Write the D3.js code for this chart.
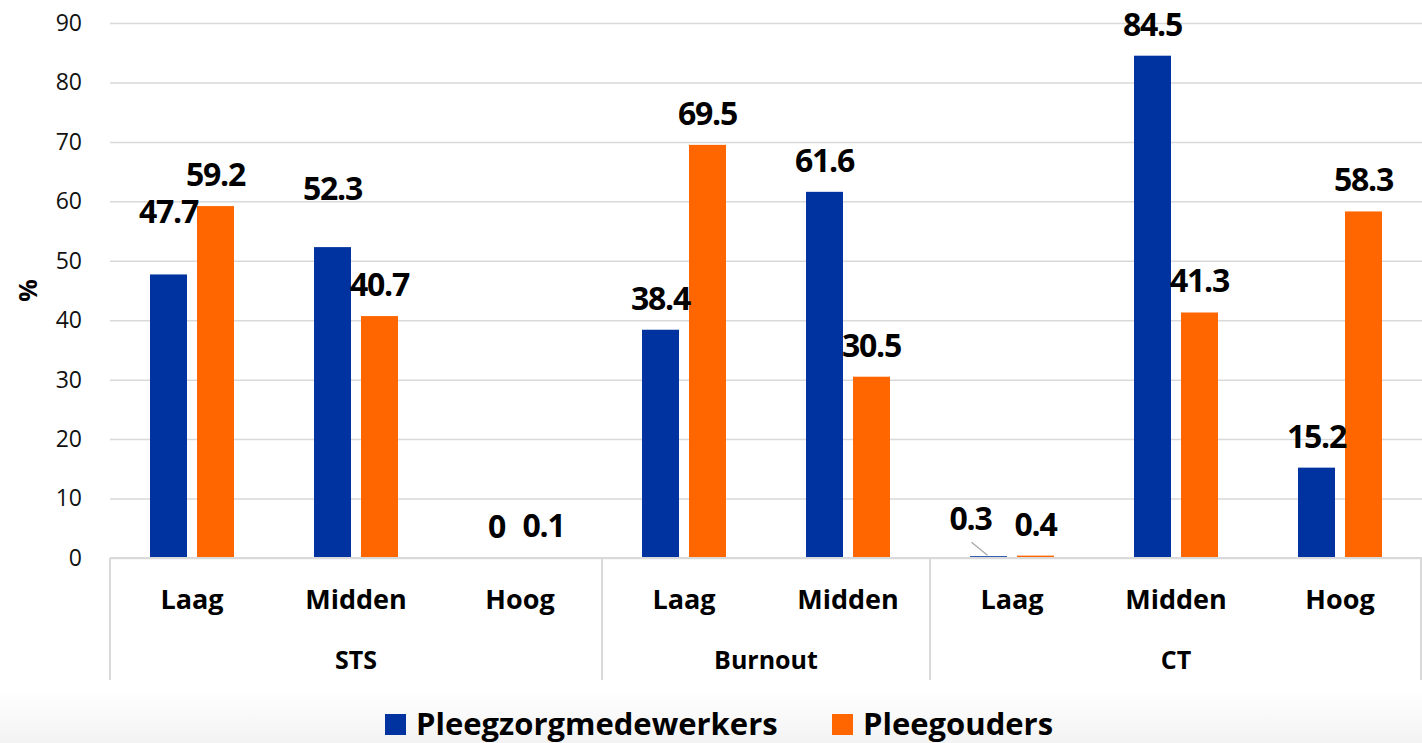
<!DOCTYPE html>
<html>
<head>
<meta charset="utf-8">
<script src="https://cdn.jsdelivr.net/npm/d3@7"></script>
<style>
  body { margin: 0; background: #fff; }
  svg { display: block; font-family: "Open Sans", sans-serif; }
</style>
</head>
<body>
<div id="chart"></div>
<script>
// Chart data
var groups = ["STS", "STS", "STS", "Burnout", "Burnout", "CT", "CT", "CT"];
var levels = ["Laag", "Midden", "Hoog", "Laag", "Midden", "Laag", "Midden", "Hoog"];
var seriesNames = ["Pleegzorgmedewerkers", "Pleegouders"];
var medewerkers = [47.7, 52.3, 0, 38.4, 61.6, 0.3, 84.5, 15.2];
var pleegouders = [59.2, 40.7, 0.1, 69.5, 30.5, 0.4, 41.3, 58.3];
var yTicks = [0, 10, 20, 30, 40, 50, 60, 70, 80, 90];

var colors = ["#0033a0", "#ff6600"];
var w = 1422;
var h = 743;
var plotLeft = 110, plotRight = 1422, plotTop = 23, plotBottom = 558;

function main() {
  var keys = levels.map(function(d, i) { return groups[i] + "-" + d + "-" + i; });
  var data = keys.map(function(k, i) {
    return { key: k, level: levels[i], values: [medewerkers[i], pleegouders[i]] };
  });

  var svg = d3.select("#chart").append("svg")
    .attr("width", w)
    .attr("height", h);

  // faint grey wash at the bottom, like the source
  var grad = svg.append("defs").append("linearGradient")
    .attr("id", "bg").attr("x1", 0).attr("y1", 0).attr("x2", 0).attr("y2", 1);
  grad.append("stop").attr("offset", "0%").attr("stop-color", "#ffffff");
  grad.append("stop").attr("offset", "100%").attr("stop-color", "#f3f3f3");
  svg.append("rect").attr("x", 0).attr("y", 690).attr("width", w).attr("height", h - 690)
    .attr("fill", "url(#bg)");

  var x0 = d3.scaleBand().domain(keys).range([plotLeft, plotRight]);
  var x1 = d3.scaleBand().domain(seriesNames).range([40, 124]).paddingInner(0.213);
  var y = d3.scaleLinear().domain([0, 90]).range([plotBottom, plotTop]);

  // gridlines + y labels
  var yAxis = d3.axisLeft(y).tickValues(yTicks).tickSize(-(plotRight - plotLeft)).tickPadding(28);
  var gy = svg.append("g")
    .attr("transform", "translate(" + plotLeft + ",0)")
    .call(yAxis);
  gy.select(".domain").remove();
  gy.selectAll(".tick line").attr("stroke", "#d9d9d9").attr("stroke-width", 1.5);
  gy.selectAll(".tick text")
    .attr("fill", "#111")
    .style("font-size", "23px")
    .style("font-family", "'Open Sans', sans-serif");

  // % label
  svg.append("text")
    .attr("transform", "translate(37," + (y(45)) + ") rotate(-90)")
    .attr("text-anchor", "middle")
    .style("font-size", "25px")
    .style("font-weight", "bold")
    .text("%");

  // bars
  var cat = svg.selectAll(".cat")
    .data(data)
    .enter().append("g")
    .attr("class", "cat")
    .attr("transform", function(d) { return "translate(" + x0(d.key) + ",0)"; });

  cat.selectAll("rect")
    .data(function(d) { return d.values.map(function(v, j) { return { s: seriesNames[j], v: v, j: j }; }); })
    .enter().append("rect")
    .attr("x", function(d) { return x1(d.s); })
    .attr("width", x1.bandwidth())
    .attr("y", function(d) { return y(d.v); })
    .attr("height", function(d) { return plotBottom - y(d.v); })
    .attr("fill", function(d) { return colors[d.j]; });

  // value labels (a few moved the way the source placed them)
  var nudge = { "0-0": [0, -31], "1-0": [0, -27], "5-0": [-18, -6] };
  cat.each(function(d, i) {
    var g = d3.select(this);
    d.values.forEach(function(v, j) {
      var n = nudge[i + "-" + j] || [0, 0];
      var cx = x1(seriesNames[j]) + x1.bandwidth() / 2;
      g.append("text")
        .attr("x", cx + n[0])
        .attr("y", y(v) - 20 + n[1])
        .attr("text-anchor", "middle")
        .style("font-size", "32px")
        .style("font-weight", "bold")
        .style("letter-spacing", "-1.2px")
        .attr("fill", "#000")
        .text(v);
      if (n[0] !== 0) {
        // leader line from the moved label to its bar
        g.append("line")
          .attr("x1", cx + n[0] + 1).attr("y1", y(v) - 14)
          .attr("x2", cx - 1).attr("y2", y(v) - 1)
          .attr("stroke", "#a6a6a6").attr("stroke-width", 1.2);
      }
    });
  });

  // category axis
  svg.append("line")
    .attr("x1", plotLeft).attr("x2", plotRight)
    .attr("y1", plotBottom).attr("y2", plotBottom)
    .attr("stroke", "#d9d9d9").attr("stroke-width", 2);

  svg.selectAll(".lvl")
    .data(data)
    .enter().append("text")
    .attr("x", function(d) { return x0(d.key) + x0.bandwidth() / 2; })
    .attr("y", 609)
    .attr("text-anchor", "middle")
    .style("font-size", "27px")
    .style("font-weight", "bold")
    .text(function(d) { return d.level; });

  // group spans
  var spans = [];
  groups.forEach(function(g, i) {
    var last = spans[spans.length - 1];
    if (last && last.name === g) last.end = keys[i];
    else spans.push({ name: g, start: keys[i], end: keys[i] });
  });
  var edges = [plotLeft].concat(spans.map(function(s) { return x0(s.end) + x0.bandwidth(); }));
  svg.selectAll(".divider")
    .data(edges)
    .enter().append("line")
    .attr("x1", function(d) { return Math.min(d, plotRight - 1); })
    .attr("x2", function(d) { return Math.min(d, plotRight - 1); })
    .attr("y1", plotBottom).attr("y2", 680)
    .attr("stroke", "#d9d9d9").attr("stroke-width", 2);

  svg.selectAll(".grp")
    .data(spans)
    .enter().append("text")
    .attr("x", function(s) { return (x0(s.start) + x0(s.end) + x0.bandwidth()) / 2; })
    .attr("y", 669)
    .attr("text-anchor", "middle")
    .style("font-size", "25px")
    .style("font-weight", "bold")
    .text(function(s) { return s.name; });

  // legend
  var legendX = [385, 832];
  var legend = svg.selectAll(".legend")
    .data(seriesNames)
    .enter().append("g")
    .attr("transform", function(d, i) { return "translate(" + legendX[i] + ",714)"; });
  legend.append("rect")
    .attr("width", 21).attr("height", 21)
    .attr("fill", function(d, i) { return colors[i]; });
  legend.append("text")
    .attr("x", 31).attr("y", 21)
    .style("font-size", "31px")
    .style("font-weight", "bold")
    .text(function(d) { return d; });
}

window.onload = function() {
  main();
};
</script>
</body>
</html>
